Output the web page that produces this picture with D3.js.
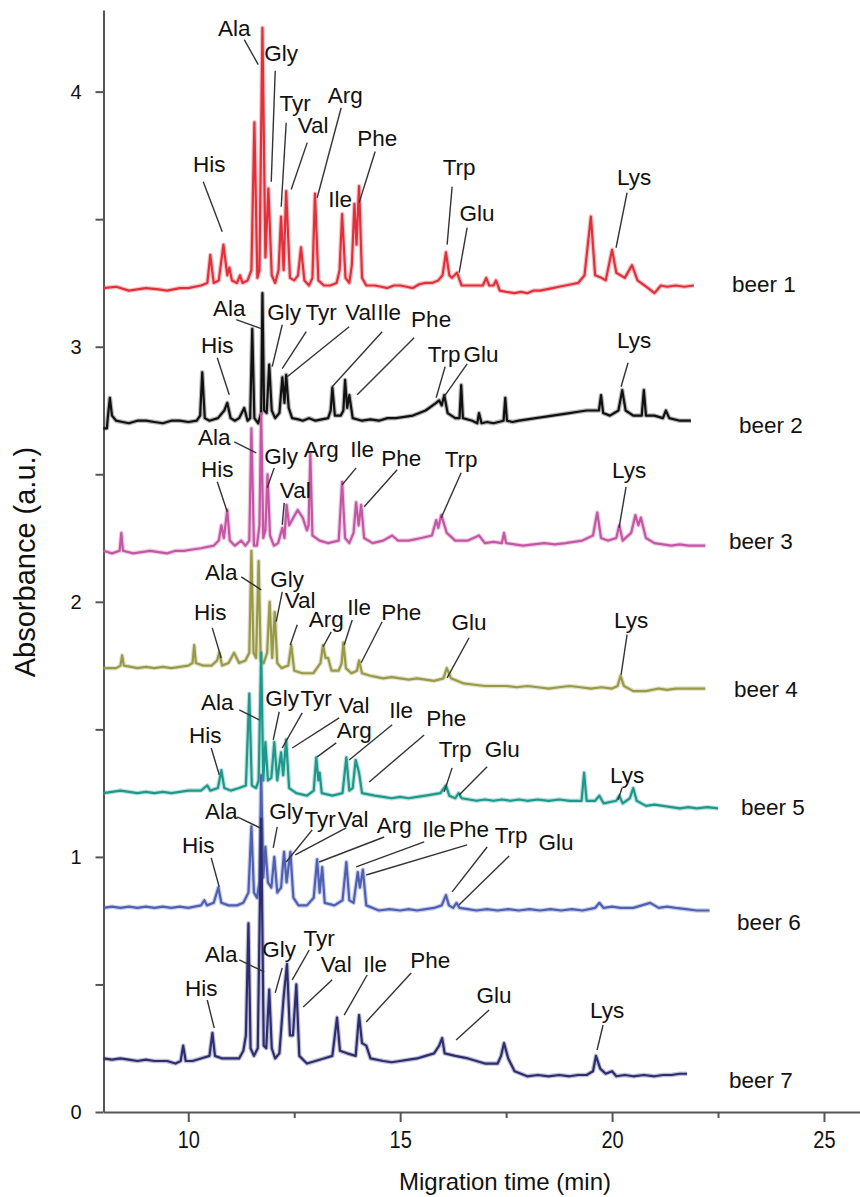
<!DOCTYPE html>
<html>
<head>
<meta charset="utf-8">
<script src="https://cdn.jsdelivr.net/npm/d3@7"></script>
<style>
body { margin: 0; background: #fff; }
text { font-family: "Liberation Sans", Arial, sans-serif; }
</style>
</head>
<body>
<svg id="chart" width="860" height="1197"></svg>
<script>
// electropherograms of 7 beers, x = migration time (min), y = absorbance (a.u.)
var beerNames = ["beer 1", "beer 2", "beer 3", "beer 4", "beer 5", "beer 6", "beer 7"];
var xTicks = [10, 15, 20, 25];
var xMinor = [12.5, 17.5, 22.5];
var yTicks = [0, 1, 2, 3, 4];
var yMinor = [0.5, 1.5, 2.5, 3.5];

var beer1 = [[8.0,3.23],[8.3,3.235],[8.6,3.22],[9.0,3.23],[9.3,3.225],[9.5,3.22],[9.8,3.23],[10.0,3.23],[10.3,3.24],[10.45,3.25],[10.52,3.36],[10.6,3.25],[10.72,3.26],[10.83,3.40],[10.92,3.28],[10.97,3.31],[11.03,3.26],[11.15,3.25],[11.22,3.28],[11.28,3.25],[11.4,3.26],[11.49,3.30],[11.56,3.88],[11.63,3.27],[11.68,3.30],[11.75,4.25],[11.82,3.35],[11.89,3.62],[11.97,3.28],[12.05,3.25],[12.13,3.30],[12.19,3.51],[12.25,3.30],[12.31,3.61],[12.4,3.27],[12.5,3.26],[12.59,3.28],[12.66,3.39],[12.74,3.26],[12.85,3.24],[12.93,3.27],[12.99,3.60],[13.07,3.26],[13.2,3.24],[13.35,3.24],[13.5,3.25],[13.57,3.30],[13.63,3.52],[13.71,3.27],[13.8,3.25],[13.86,3.32],[13.92,3.56],[13.97,3.40],[14.03,3.63],[14.1,3.27],[14.2,3.24],[14.4,3.24],[14.55,3.235],[14.7,3.23],[14.85,3.24],[15.0,3.24],[15.15,3.235],[15.3,3.23],[15.45,3.245],[15.6,3.25],[15.75,3.25],[15.9,3.26],[16.0,3.28],[16.08,3.37],[16.16,3.28],[16.22,3.27],[16.34,3.29],[16.45,3.24],[16.7,3.24],[16.95,3.24],[17.03,3.27],[17.1,3.24],[17.2,3.24],[17.26,3.26],[17.35,3.22],[17.5,3.215],[17.7,3.21],[17.85,3.215],[18.0,3.21],[18.15,3.22],[18.3,3.22],[18.45,3.225],[18.6,3.23],[18.75,3.235],[18.9,3.24],[19.05,3.245],[19.2,3.25],[19.35,3.28],[19.5,3.51],[19.6,3.28],[19.75,3.27],[19.85,3.26],[20.0,3.38],[20.1,3.29],[20.3,3.27],[20.47,3.32],[20.6,3.26],[20.85,3.23],[21.0,3.21],[21.15,3.24],[21.3,3.235],[21.5,3.24],[21.7,3.235],[21.93,3.24]];
var beer2 = [[8.0,2.68],[8.08,2.68],[8.1,2.72],[8.15,2.80],[8.2,2.73],[8.3,2.71],[8.45,2.705],[8.6,2.70],[8.8,2.71],[9.0,2.71],[9.2,2.705],[9.4,2.70],[9.6,2.71],[9.8,2.71],[10.0,2.705],[10.2,2.71],[10.28,2.73],[10.33,2.90],[10.39,2.72],[10.5,2.71],[10.7,2.72],[10.85,2.75],[10.92,2.78],[11.0,2.72],[11.1,2.71],[11.2,2.72],[11.32,2.76],[11.4,2.71],[11.46,2.72],[11.51,3.07],[11.56,2.72],[11.65,2.70],[11.72,2.74],[11.75,3.21],[11.79,2.75],[11.85,2.74],[11.91,2.93],[11.97,2.75],[12.05,2.72],[12.15,2.74],[12.22,2.88],[12.27,2.78],[12.31,2.89],[12.37,2.76],[12.45,2.72],[12.6,2.715],[12.7,2.71],[12.85,2.72],[13.0,2.71],[13.15,2.715],[13.3,2.72],[13.36,2.75],[13.40,2.84],[13.46,2.73],[13.6,2.73],[13.66,2.75],[13.70,2.87],[13.75,2.76],[13.80,2.81],[13.88,2.72],[14.1,2.71],[14.3,2.715],[14.5,2.71],[14.7,2.72],[14.9,2.72],[15.1,2.725],[15.3,2.73],[15.45,2.74],[15.6,2.75],[15.85,2.78],[15.92,2.79],[15.98,2.77],[16.04,2.81],[16.12,2.74],[16.3,2.72],[16.4,2.72],[16.44,2.85],[16.48,2.72],[16.7,2.71],[16.82,2.70],[16.86,2.74],[16.92,2.70],[17.05,2.705],[17.2,2.70],[17.44,2.71],[17.48,2.80],[17.52,2.71],[17.65,2.705],[17.8,2.71],[18.0,2.715],[18.2,2.72],[18.4,2.725],[18.6,2.73],[18.8,2.735],[19.0,2.74],[19.2,2.745],[19.4,2.75],[19.62,2.75],[19.69,2.75],[19.74,2.81],[19.79,2.74],[19.95,2.73],[20.15,2.75],[20.24,2.83],[20.32,2.75],[20.5,2.73],[20.7,2.73],[20.75,2.83],[20.8,2.73],[21.0,2.73],[21.2,2.72],[21.27,2.75],[21.35,2.72],[21.6,2.71],[21.86,2.71]];
var beer3 = [[8.0,2.20],[8.2,2.19],[8.38,2.20],[8.42,2.27],[8.46,2.20],[8.7,2.19],[8.9,2.195],[9.1,2.20],[9.3,2.195],[9.5,2.19],[9.7,2.20],[9.9,2.20],[10.1,2.205],[10.3,2.21],[10.6,2.22],[10.72,2.24],[10.78,2.30],[10.84,2.25],[10.92,2.36],[10.98,2.24],[11.1,2.22],[11.25,2.24],[11.35,2.22],[11.44,2.24],[11.49,2.68],[11.55,2.22],[11.62,2.22],[11.68,2.30],[11.72,2.74],[11.77,2.25],[11.82,2.28],[11.87,2.50],[11.93,2.26],[12.02,2.22],[12.12,2.23],[12.22,2.29],[12.27,2.25],[12.32,2.38],[12.38,2.30],[12.48,2.33],[12.58,2.36],[12.7,2.33],[12.8,2.28],[12.84,2.30],[12.88,2.58],[12.93,2.26],[13.1,2.24],[13.3,2.23],[13.55,2.24],[13.63,2.47],[13.7,2.25],[13.8,2.23],[13.9,2.27],[13.96,2.39],[14.02,2.30],[14.08,2.38],[14.15,2.25],[14.35,2.23],[14.6,2.24],[14.81,2.26],[14.95,2.24],[15.2,2.24],[15.35,2.245],[15.5,2.25],[15.75,2.26],[15.85,2.32],[15.9,2.29],[15.97,2.34],[16.1,2.27],[16.3,2.24],[16.6,2.24],[16.86,2.26],[17.0,2.23],[17.2,2.235],[17.4,2.23],[17.45,2.27],[17.5,2.23],[17.7,2.225],[17.9,2.22],[18.15,2.225],[18.4,2.23],[18.65,2.225],[18.9,2.23],[19.1,2.235],[19.3,2.24],[19.55,2.26],[19.65,2.35],[19.74,2.25],[19.9,2.24],[20.1,2.25],[20.17,2.30],[20.25,2.24],[20.45,2.27],[20.55,2.34],[20.62,2.30],[20.68,2.33],[20.8,2.25],[21.0,2.23],[21.2,2.225],[21.4,2.22],[21.6,2.225],[21.8,2.22],[22.2,2.22]];
var beer4 = [[8.0,1.74],[8.3,1.74],[8.4,1.75],[8.44,1.79],[8.48,1.75],[8.65,1.745],[8.8,1.74],[9.0,1.745],[9.2,1.74],[9.4,1.745],[9.6,1.74],[9.8,1.745],[10.0,1.75],[10.1,1.76],[10.14,1.83],[10.18,1.76],[10.35,1.75],[10.55,1.75],[10.68,1.77],[10.73,1.80],[10.8,1.75],[10.95,1.76],[11.08,1.80],[11.2,1.76],[11.35,1.77],[11.44,1.80],[11.49,2.20],[11.54,1.80],[11.6,1.78],[11.66,2.16],[11.71,1.77],[11.78,1.76],[11.86,1.80],[11.92,2.00],[11.98,1.78],[12.04,1.96],[12.1,1.76],[12.2,1.74],[12.36,1.75],[12.43,1.83],[12.5,1.73],[12.7,1.72],[12.95,1.72],[13.12,1.76],[13.18,1.83],[13.24,1.78],[13.3,1.78],[13.38,1.73],[13.55,1.73],[13.62,1.76],[13.66,1.84],[13.72,1.74],[13.85,1.72],[13.98,1.73],[14.03,1.77],[14.1,1.72],[14.3,1.71],[14.45,1.705],[14.6,1.70],[14.8,1.705],[15.0,1.70],[15.2,1.695],[15.4,1.70],[15.6,1.695],[15.8,1.69],[16.02,1.70],[16.1,1.74],[16.2,1.70],[16.5,1.68],[16.75,1.675],[17.0,1.67],[17.25,1.67],[17.5,1.67],[17.75,1.665],[18.0,1.67],[18.25,1.665],[18.5,1.66],[18.75,1.665],[19.0,1.67],[19.25,1.665],[19.5,1.66],[19.75,1.665],[20.0,1.66],[20.13,1.67],[20.2,1.71],[20.28,1.67],[20.5,1.65],[20.8,1.65],[21.1,1.66],[21.3,1.655],[21.5,1.66],[21.8,1.66],[22.2,1.66]];
var beer5 = [[8.0,1.25],[8.2,1.255],[8.4,1.26],[8.6,1.255],[8.8,1.25],[9.0,1.255],[9.2,1.25],[9.4,1.255],[9.6,1.25],[9.8,1.255],[10.0,1.26],[10.3,1.26],[10.45,1.28],[10.52,1.26],[10.7,1.27],[10.78,1.34],[10.85,1.27],[11.0,1.26],[11.2,1.27],[11.36,1.28],[11.44,1.64],[11.5,1.28],[11.6,1.27],[11.66,1.30],[11.72,1.80],[11.77,1.30],[11.82,1.45],[11.88,1.30],[11.96,1.31],[12.03,1.45],[12.1,1.30],[12.19,1.41],[12.24,1.32],[12.31,1.46],[12.38,1.27],[12.55,1.25],[12.8,1.24],[12.96,1.26],[13.02,1.39],[13.07,1.30],[13.1,1.33],[13.15,1.25],[13.4,1.24],[13.64,1.25],[13.73,1.39],[13.8,1.26],[13.88,1.27],[13.95,1.38],[14.03,1.33],[14.1,1.25],[14.4,1.24],[14.6,1.235],[14.8,1.23],[15.0,1.235],[15.2,1.23],[15.4,1.235],[15.6,1.24],[15.95,1.25],[16.08,1.28],[16.16,1.24],[16.3,1.23],[16.38,1.25],[16.45,1.23],[16.8,1.22],[17.0,1.225],[17.2,1.22],[17.4,1.225],[17.6,1.22],[17.8,1.225],[18.0,1.22],[18.25,1.225],[18.5,1.22],[18.75,1.225],[19.0,1.22],[19.28,1.22],[19.34,1.33],[19.4,1.22],[19.6,1.22],[19.7,1.24],[19.8,1.21],[20.1,1.22],[20.17,1.24],[20.25,1.21],[20.42,1.23],[20.5,1.27],[20.58,1.22],[20.8,1.20],[21.0,1.205],[21.2,1.20],[21.4,1.195],[21.6,1.19],[21.8,1.195],[22.0,1.19],[22.25,1.195],[22.5,1.19]];
var beer6 = [[8.0,0.80],[8.2,0.805],[8.4,0.80],[8.6,0.805],[8.8,0.80],[9.0,0.805],[9.2,0.80],[9.4,0.805],[9.6,0.80],[9.8,0.805],[10.0,0.80],[10.3,0.81],[10.38,0.83],[10.44,0.81],[10.6,0.82],[10.71,0.88],[10.78,0.82],[10.95,0.81],[11.15,0.81],[11.3,0.82],[11.42,0.86],[11.49,1.12],[11.55,0.86],[11.62,0.84],[11.68,0.90],[11.72,1.32],[11.77,0.92],[11.82,1.04],[11.88,0.90],[11.96,0.88],[12.03,1.00],[12.1,0.86],[12.19,0.88],[12.26,1.02],[12.32,0.90],[12.41,1.02],[12.48,0.84],[12.6,0.81],[12.8,0.81],[12.96,0.84],[13.04,0.99],[13.1,0.86],[13.16,0.96],[13.22,0.82],[13.45,0.81],[13.64,0.83],[13.73,0.98],[13.8,0.83],[13.9,0.82],[14.0,0.94],[14.05,0.88],[14.12,0.95],[14.2,0.81],[14.5,0.79],[14.75,0.795],[15.0,0.79],[15.2,0.795],[15.4,0.79],[15.6,0.795],[15.8,0.80],[15.98,0.81],[16.08,0.85],[16.15,0.81],[16.25,0.80],[16.33,0.82],[16.4,0.80],[16.6,0.795],[16.8,0.79],[17.05,0.795],[17.3,0.79],[17.55,0.795],[17.8,0.79],[18.05,0.795],[18.3,0.79],[18.55,0.795],[18.8,0.79],[19.05,0.795],[19.3,0.79],[19.6,0.80],[19.7,0.82],[19.8,0.80],[20.0,0.805],[20.2,0.80],[20.5,0.80],[20.7,0.81],[20.9,0.82],[21.1,0.80],[21.3,0.805],[21.5,0.80],[21.75,0.795],[22.0,0.79],[22.3,0.79]];
var beer7 = [[8.0,0.21],[8.2,0.205],[8.4,0.21],[8.6,0.205],[8.8,0.20],[9.0,0.205],[9.2,0.20],[9.5,0.20],[9.7,0.19],[9.82,0.20],[9.88,0.26],[9.94,0.20],[10.1,0.20],[10.3,0.21],[10.5,0.22],[10.57,0.31],[10.63,0.22],[10.8,0.21],[11.0,0.21],[11.2,0.21],[11.3,0.24],[11.36,0.30],[11.42,0.74],[11.47,0.25],[11.55,0.22],[11.64,0.25],[11.72,1.15],[11.78,0.26],[11.84,0.25],[11.91,0.48],[11.97,0.25],[12.05,0.21],[12.15,0.23],[12.25,0.45],[12.33,0.58],[12.4,0.30],[12.47,0.30],[12.55,0.50],[12.62,0.22],[12.8,0.19],[13.0,0.20],[13.2,0.21],[13.4,0.22],[13.51,0.37],[13.58,0.24],[13.75,0.23],[13.95,0.22],[14.03,0.38],[14.1,0.27],[14.2,0.26],[14.3,0.21],[14.6,0.20],[14.8,0.195],[15.0,0.20],[15.2,0.205],[15.4,0.21],[15.6,0.22],[15.8,0.23],[15.92,0.26],[15.99,0.29],[16.05,0.23],[16.3,0.22],[16.6,0.21],[16.8,0.20],[17.0,0.19],[17.3,0.19],[17.38,0.22],[17.45,0.27],[17.55,0.21],[17.7,0.16],[18.0,0.14],[18.25,0.145],[18.5,0.14],[18.75,0.145],[19.0,0.14],[19.2,0.145],[19.4,0.145],[19.55,0.16],[19.62,0.22],[19.72,0.17],[19.85,0.15],[20.0,0.16],[20.1,0.14],[20.3,0.145],[20.5,0.14],[20.75,0.145],[21.0,0.14],[21.2,0.145],[21.4,0.145],[21.6,0.15],[21.77,0.15]];

// peak labels: [name, text x, text baseline y, leader x1, y1, x2, y2] in data units
var beer1Labels = [["Ala",11.085,4.220,11.321,4.204,11.651,4.106],["Gly",12.193,4.122,12.052,4.082,11.958,3.647],["Tyr",12.524,3.925,12.311,3.878,12.193,3.549],["Val",12.948,3.839,12.807,3.800,12.429,3.616],["Arg",13.703,3.957,13.608,3.937,13.042,3.584],["Phe",14.458,3.788,14.410,3.765,14.033,3.565],["Ile",13.585,3.549],["His",10.495,3.686,10.354,3.647,10.802,3.451],["Trp",16.392,3.675,16.226,3.627,16.108,3.400],["Glu",16.816,3.494,16.580,3.467,16.392,3.290],["Lys",20.519,3.635,20.354,3.604,20.094,3.388]];
var beer2Labels = [["Ala",10.967,3.122,11.132,3.106,11.722,3.071],["His",10.684,2.976,10.684,2.957,10.967,2.812],["Gly",12.264,3.106,12.217,3.086,11.981,2.922],["Tyr",13.137,3.106,12.783,3.059,12.217,2.914],["Val",14.068,3.106,13.797,3.078,12.335,2.882],["Ile",14.741,3.106,14.575,3.059,13.396,2.843],["Phe",15.731,3.078,15.330,3.035,13.986,2.812],["Trp",16.038,2.941,16.061,2.922,15.849,2.800],["Glu",16.910,2.941,16.580,2.933,16.038,2.804],["Lys",20.519,2.996,20.377,2.937,20.212,2.843]];
var beer3Labels = [["Ala",10.613,2.616,11.085,2.627,11.604,2.584],["His",10.684,2.490,10.684,2.471,10.920,2.353],["Gly",12.193,2.541,12.028,2.525,11.863,2.447],["Arg",13.137,2.569],["Ile",14.104,2.569,13.962,2.525,13.632,2.459],["Phe",15.024,2.533,14.929,2.518,14.151,2.373],["Val",12.524,2.408,12.264,2.388,12.217,2.302],["Trp",16.439,2.529,16.439,2.506,15.967,2.329],["Lys",20.401,2.486,20.330,2.451,20.165,2.290]];
var beer4Labels = [["Ala",10.778,2.086,11.250,2.098,11.722,2.047],["Gly",12.335,2.059,12.217,2.039,12.075,1.922],["Val",12.641,1.976,12.571,1.910,12.406,1.831],["Arg",13.255,1.902,13.373,1.882,13.184,1.824],["Ile",14.033,1.949,13.868,1.929,13.679,1.831],["Phe",15.024,1.929,14.575,1.922,14.080,1.761],["Glu",16.627,1.890,16.627,1.859,16.108,1.702],["His",10.519,1.929,10.566,1.898,10.778,1.780],["Lys",20.448,1.898,20.354,1.871,20.212,1.714]];
var beer5Labels = [["Ala",10.684,1.576,11.203,1.576,11.675,1.537],["Gly",12.217,1.592,12.146,1.569,12.005,1.459],["Tyr",13.019,1.592,12.689,1.565,12.217,1.427],["Val",13.915,1.565,13.561,1.545,12.453,1.427],["Arg",13.915,1.467,13.491,1.447,13.042,1.392],["Ile",15.024,1.545,14.811,1.518,13.797,1.380],["Phe",16.085,1.514,15.566,1.478,14.269,1.294],["His",10.401,1.447,10.542,1.427,10.731,1.322],["Trp",16.297,1.392,16.226,1.349,16.038,1.255],["Glu",17.406,1.392,17.052,1.353,16.392,1.243],["Lys",20.354,1.290,20.236,1.271,20.142,1.224]];
var beer6Labels = [["Ala",10.778,1.149,11.156,1.157,11.745,1.110],["His",10.236,1.016,10.542,0.996,10.731,0.882],["Gly",12.311,1.149,12.099,1.118,12.005,1.035],["Tyr",13.113,1.118,12.925,1.106,12.311,0.980],["Val",13.892,1.118,13.726,1.114,12.524,1.008],["Arg",14.858,1.094,14.623,1.078,13.090,0.980],["Ile",15.802,1.078,15.566,1.059,13.962,0.961],["Phe",16.627,1.078,16.580,1.047,14.198,0.929],["Trp",17.618,1.055,17.052,1.039,16.226,0.863],["Glu",18.679,1.027,17.571,1.004,16.392,0.812]];
var beer7Labels = [["Ala",10.778,0.588,11.203,0.596,11.792,0.549],["Gly",12.146,0.608,12.217,0.565,12.052,0.467],["Tyr",13.090,0.651,12.854,0.635,12.453,0.518],["Val",13.491,0.549,13.396,0.518,12.712,0.412],["Ile",14.410,0.549,14.222,0.537,13.679,0.380],["Phe",15.708,0.565,15.259,0.545,14.198,0.353],["His",10.307,0.455,10.448,0.439,10.613,0.329],["Glu",17.217,0.427,17.099,0.400,16.321,0.282],["Lys",19.882,0.369,19.788,0.341,19.646,0.243]];

// where each "beer n" name sits (left edge, baseline)
var beerNamePos = [[22.83,3.216],[22.995,2.663],[22.759,2.208],[22.877,1.627],[23.042,1.165],[22.948,0.714],[22.759,0.094]];

var traces = [beer1, beer2, beer3, beer4, beer5, beer6, beer7];
var peakLabels = [beer1Labels, beer2Labels, beer3Labels, beer4Labels, beer5Labels, beer6Labels, beer7Labels];
var colors = ["#e2303a", "#111111", "#c456a4", "#989a48", "#1d988b", "#4f60b3", "#2e2d70"];

var svg = d3.select('#chart');
var x = d3.scaleLinear().domain([8, 25.85]).range([103.5, 860]);
var y = d3.scaleLinear().domain([0, 4.32]).range([1112, 10]);
var axisColor = '#555';

// axes
var gx = svg.append('g').attr('transform', 'translate(0,' + y(0) + ')')
    .call(d3.axisBottom(x).tickValues(xTicks).tickSize(10).tickSizeOuter(0).tickPadding(10));
svg.append('g').attr('transform', 'translate(0,' + y(0) + ')')
    .call(d3.axisBottom(x).tickValues(xMinor).tickSize(6).tickSizeOuter(0).tickFormat(''))
    .select('.domain').remove();
var gy = svg.append('g').attr('transform', 'translate(' + x(8) + ',0)')
    .call(d3.axisLeft(y).tickValues(yTicks).tickSize(8).tickSizeOuter(0).tickPadding(14).tickFormat(d3.format('d')));
svg.append('g').attr('transform', 'translate(' + x(8) + ',0)')
    .call(d3.axisLeft(y).tickValues(yMinor).tickSize(8).tickSizeOuter(0).tickFormat(''))
    .select('.domain').remove();

svg.selectAll('.domain, .tick line').attr('stroke', axisColor).attr('stroke-width', 2);
gx.selectAll('.tick text').attr('font-size', 23).attr('fill', '#111')
    .attr('font-family', '"Liberation Sans", Arial, sans-serif')
    .attr('transform', 'scale(0.87,1)');
gy.selectAll('.tick text').attr('font-size', 20).attr('fill', '#111')
    .attr('font-family', '"DejaVu Sans", sans-serif');

svg.append('text')
    .attr('x', 505).attr('y', 1190)
    .attr('text-anchor', 'middle').attr('font-size', 24).attr('fill', '#111')
    .text('Migration time (min)');
svg.append('text')
    .attr('transform', 'translate(35,562) rotate(-90)')
    .attr('text-anchor', 'middle').attr('font-size', 29).attr('fill', '#111')
    .text('Absorbance (a.u.)');

// traces: soft halo first, then the line itself
var line = d3.line().x(function (d) { return x(d[0]); }).y(function (d) { return y(d[1]); });
traces.forEach(function (tr, i) {
    svg.append('path').datum(tr).attr('d', line)
        .attr('fill', 'none').attr('stroke', colors[i]).attr('stroke-opacity', 0.3)
        .attr('stroke-width', 4.5).attr('stroke-linejoin', 'round');
});
traces.forEach(function (tr, i) {
    svg.append('path').datum(tr).attr('d', line)
        .attr('fill', 'none').attr('stroke', colors[i])
        .attr('stroke-width', 2.2).attr('stroke-linejoin', 'round');
});

// peak labels and leader lines
peakLabels.forEach(function (labs) {
    labs.forEach(function (l) {
        if (l.length > 3) {
            svg.append('line')
                .attr('x1', x(l[3])).attr('y1', y(l[4]))
                .attr('x2', x(l[5])).attr('y2', y(l[6]))
                .attr('stroke', '#333').attr('stroke-width', 1.4);
        }
        svg.append('text')
            .attr('x', x(l[1])).attr('y', y(l[2]))
            .attr('text-anchor', 'middle').attr('font-size', 22.5).attr('fill', '#111')
            .text(l[0]);
    });
});

beerNames.forEach(function (name, i) {
    svg.append('text')
        .attr('x', x(beerNamePos[i][0])).attr('y', y(beerNamePos[i][1]))
        .attr('font-size', 22.5).attr('fill', '#111')
        .text(name);
});
</script>
</body>
</html>
